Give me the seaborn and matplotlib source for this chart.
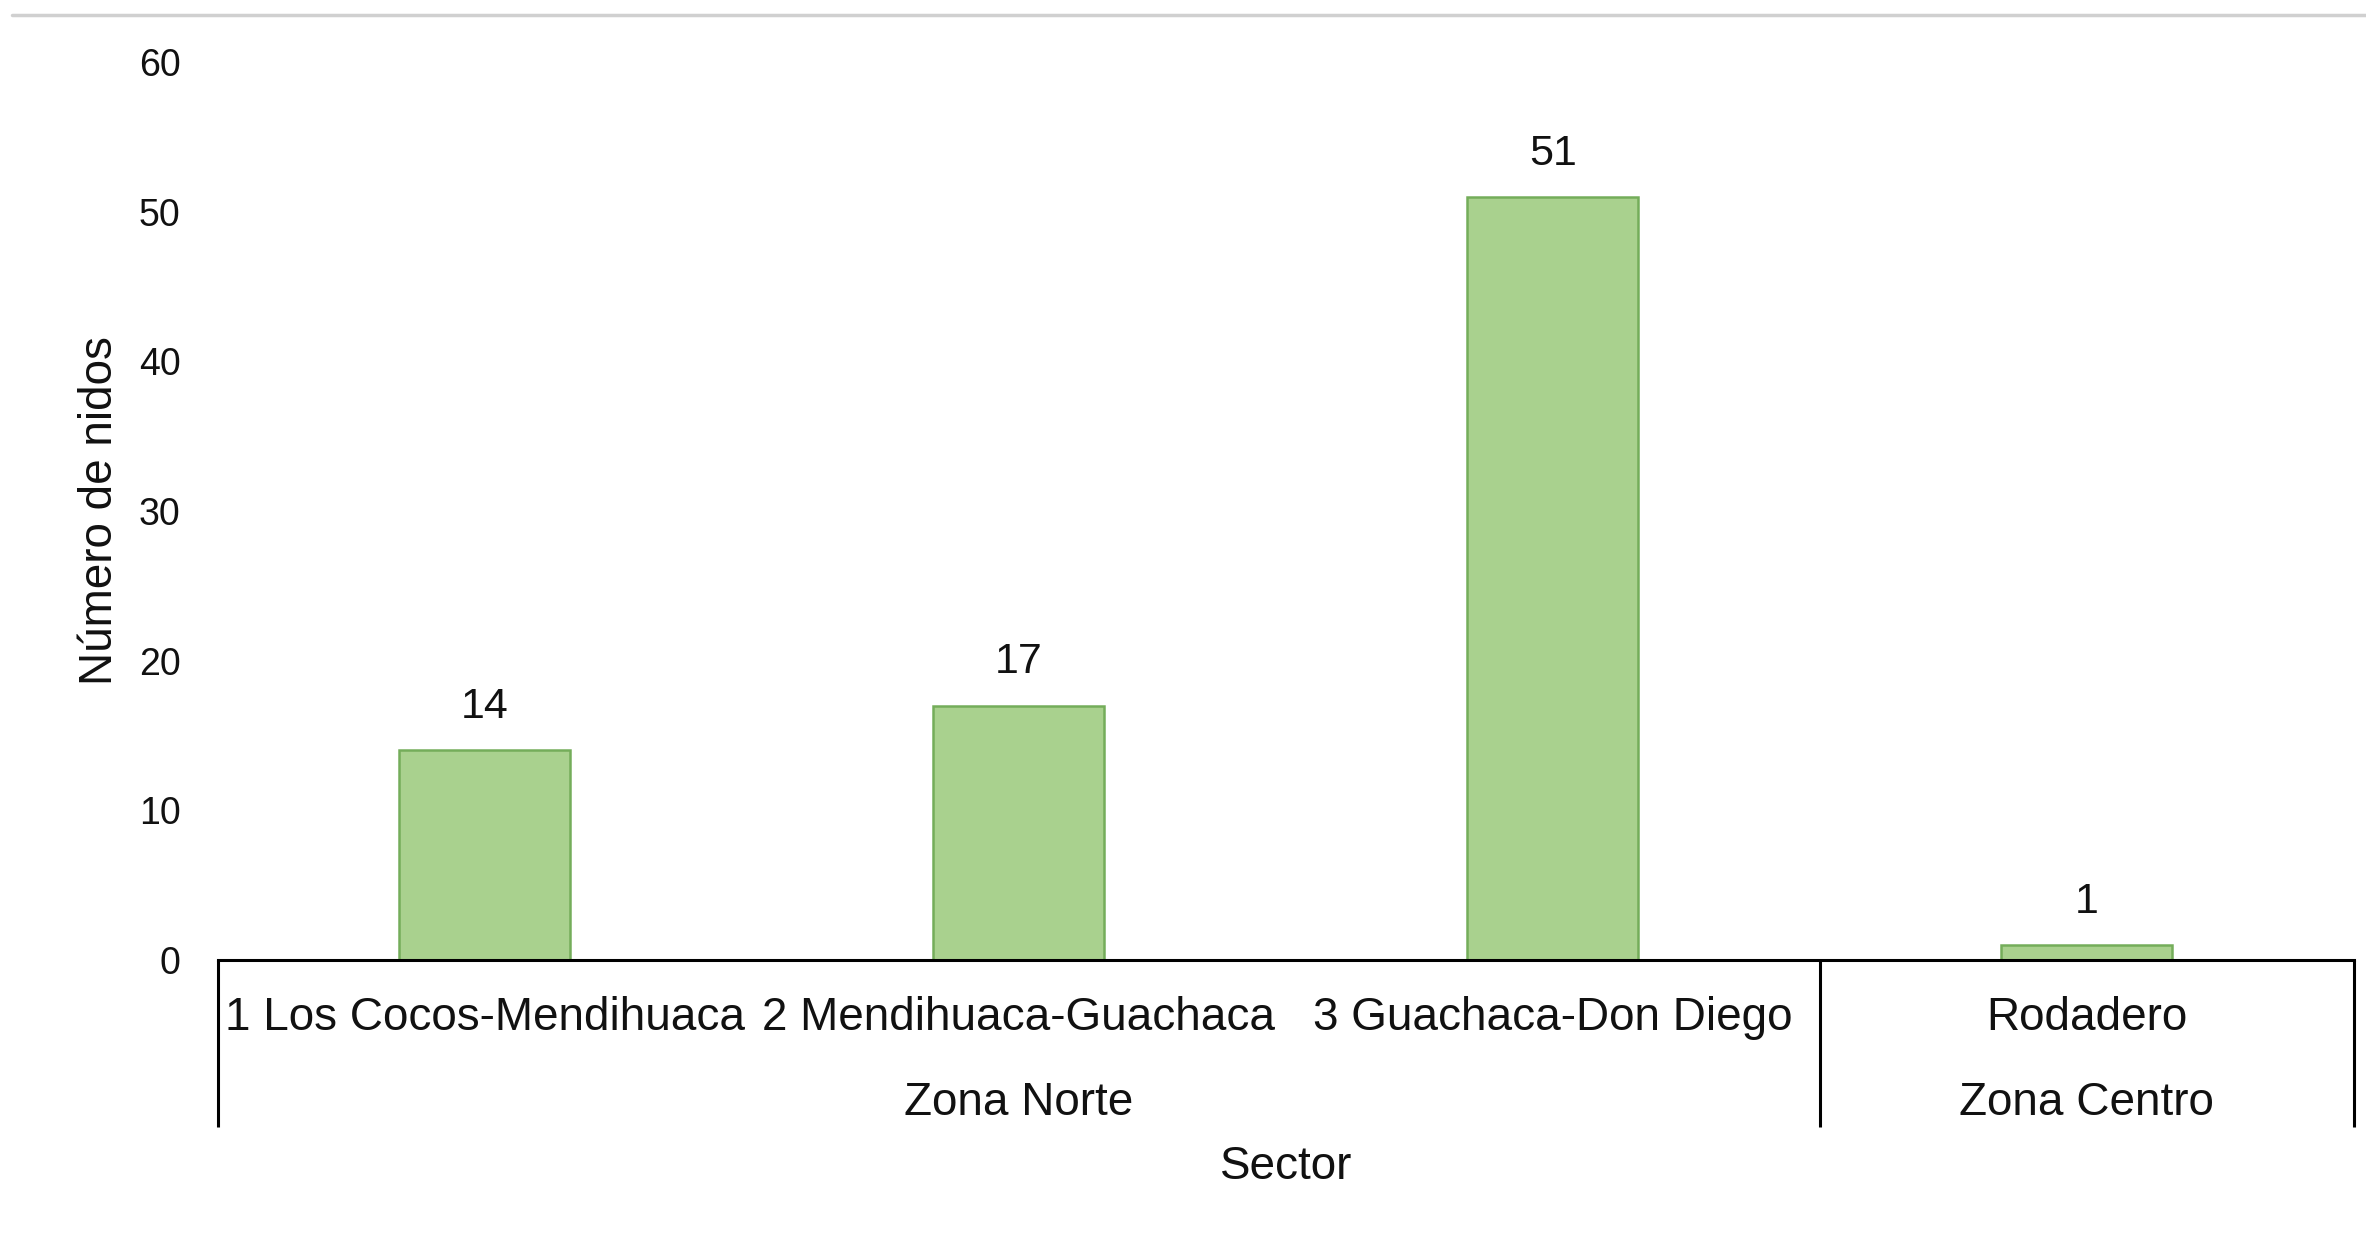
import matplotlib
matplotlib.use("Agg")
import matplotlib.pyplot as plt
from matplotlib.lines import Line2D
import seaborn as sns

# datos del gráfico
sectores = ["1 Los Cocos-Mendihuaca", "2 Mendihuaca-Guachaca", "3 Guachaca-Don Diego", "Rodadero"]
nidos = [14, 17, 51, 1]
zonas = ["Zona Norte", "Zona Centro"]
zona_pos = [1, 3]          # categoria central de cada zona
separadores = [-0.5, 2.5, 3.5]
yticks = [0, 10, 20, 30, 40, 50, 60]

sns.set_theme(style="white")
plt.rcParams['font.family'] = ['Liberation Sans', 'DejaVu Sans']

fig = plt.figure(figsize=(23.66, 12.35), dpi=100)
ax = fig.add_axes([0.0921, 0.2227, 0.9028, 0.7271])

sns.barplot(x=sectores, y=nidos, color="#a9d18e", saturation=1, width=0.32,
            edgecolor="#74ad5a", linewidth=1.8, ax=ax)

ax.set_xlim(-0.5, 3.5)
ax.set_ylim(0, 60)
ax.set_yticks(yticks)
ax.tick_params(axis='y', length=0, pad=27, labelsize=27, labelcolor="#111111")
ax.tick_params(axis='x', length=0, pad=42, labelsize=33, labelcolor="#111111")
for lbl in ax.get_xticklabels():
    lbl.set_va('center')

for s in ['top', 'right', 'left']:
    ax.spines[s].set_visible(False)
ax.spines['bottom'].set_color('black')
ax.spines['bottom'].set_linewidth(2.2)

# etiquetas de valor
for i, v in enumerate(nidos):
    ax.annotate(str(v), (i, v), xytext=(0, 31), textcoords='offset points',
                ha='center', va='center', fontsize=31, color="#111111")

# lineas de separacion de zonas
ax.vlines(separadores, -0.186, 0, transform=ax.get_xaxis_transform(),
          colors='black', linewidth=2.2, clip_on=False)

for z, p in zip(zonas, zona_pos):
    ax.text(p, -0.159, z, transform=ax.get_xaxis_transform(), ha='center',
            va='center', fontsize=33, color="#111111")

ax.set_xlabel("Sector", fontsize=33, color="#111111")
ax.xaxis.set_label_coords(0.5, -0.231)
ax.xaxis.label.set_va('center')
ax.set_ylabel("Número de nidos", fontsize=33, color="#111111")
ax.yaxis.set_label_coords(-0.0552, 0.5)
ax.yaxis.label.set_va('center')

fig.add_artist(Line2D([12 / 2366, 1], [1 - 15 / 1235] * 2, color='#d0d0d0', linewidth=2.5))

fig.savefig("out.png", dpi=100)
